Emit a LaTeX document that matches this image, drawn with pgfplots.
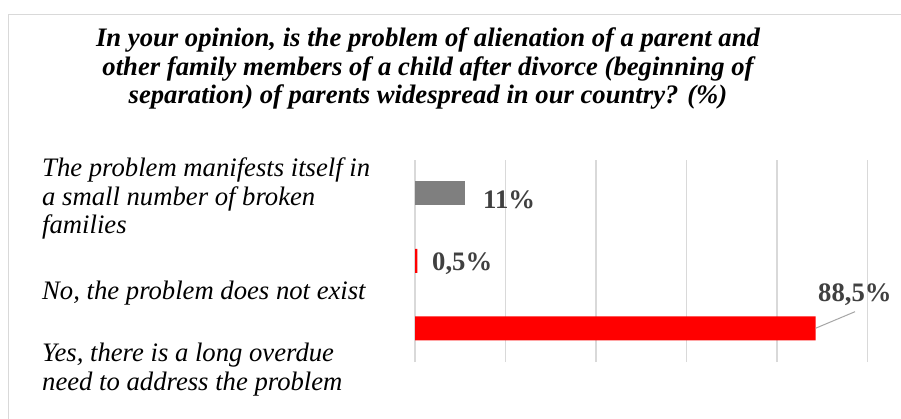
\documentclass[border=0pt]{standalone}
\usepackage{pgfplots}
\pgfplotsset{compat=1.18}
\usepackage{fontspec}
\setmainfont{Liberation Serif}
\definecolor{gridgray}{HTML}{D9D9D9}
\definecolor{bargray}{HTML}{7F7F7F}
\definecolor{labgray}{HTML}{404040}
\definecolor{leadgray}{HTML}{A6A6A6}
\begin{document}
\begin{tikzpicture}[x=1bp,y=1bp]
\useasboundingbox (0,0) rectangle (901,418);
\fill[white] (0,0) rectangle (901,418);
\draw[gridgray, line width=1.3bp] (8.3,-5) -- (8.3,403.3) -- (910,403.3);
\begin{axis}[at={(415bp,56bp)}, anchor=south west, scale only axis,
  width=452.6bp, height=202.5bp,
  xmin=0, xmax=100, ymin=-0.5, ymax=2.5,
  xtick={0,20,...,100}, xticklabels={}, ytick=\empty,
  xmajorgrids, grid style={gridgray, line width=1.3bp},
  axis line style={draw=none}, major tick length=0pt,
  xbar, bar width=24bp, clip=false]
\addplot[fill=red, draw=none, bar shift=0pt] coordinates {(88.5,0) (0.5,1)};
\addplot[fill=bargray, draw=none, bar shift=0pt] coordinates {(11,2)};
\coordinate (e) at (axis cs:88.5,0);
\end{axis}
\draw[leadgray, line width=1bp] (e) -- (855,106.3);
\begin{scope}[every node/.style={inner sep=0pt, font=\fontsize{26.67bp}{28.5bp}\selectfont}]
% title
\node[anchor=base, font=\fontsize{26.67bp}{28.5bp}\selectfont\bfseries\itshape] at (428,372) {In your opinion, is the problem of alienation of a parent and};
\node[anchor=base, font=\fontsize{26.67bp}{28.5bp}\selectfont\bfseries\itshape] at (428,343) {other family members of a child after divorce (beginning of};
\node[anchor=base, font=\fontsize{26.67bp}{28.5bp}\selectfont\bfseries\itshape] at (428,315) {separation) of parents widespread in our country? (\%)};
% category labels
\node[anchor=base west, font=\fontsize{26.67bp}{28.5bp}\selectfont\itshape] at (42,241.5) {The problem manifests itself in};
\node[anchor=base west, font=\fontsize{26.67bp}{28.5bp}\selectfont\itshape] at (42,213) {a small number of broken};
\node[anchor=base west, font=\fontsize{26.67bp}{28.5bp}\selectfont\itshape] at (42,185) {families};
\node[anchor=base west, font=\fontsize{26.67bp}{28.5bp}\selectfont\itshape] at (42,119) {No, the problem does not exist};
\node[anchor=base west, font=\fontsize{26.67bp}{28.5bp}\selectfont\itshape] at (42,56.5) {Yes, there is a long overdue};
\node[anchor=base west, font=\fontsize{26.67bp}{28.5bp}\selectfont\itshape] at (42,28) {need to address the problem};
% data labels
\node[anchor=base west, text=labgray, font=\fontsize{26.67bp}{28.5bp}\selectfont\bfseries] at (483,210) {11\%};
\node[anchor=base west, text=labgray, font=\fontsize{26.67bp}{28.5bp}\selectfont\bfseries] at (432,148) {0,5\%};
\node[anchor=base west, text=labgray, font=\fontsize{26.67bp}{28.5bp}\selectfont\bfseries] at (818,116.3) {88,5\%};
\end{scope}
\end{tikzpicture}
\end{document}
